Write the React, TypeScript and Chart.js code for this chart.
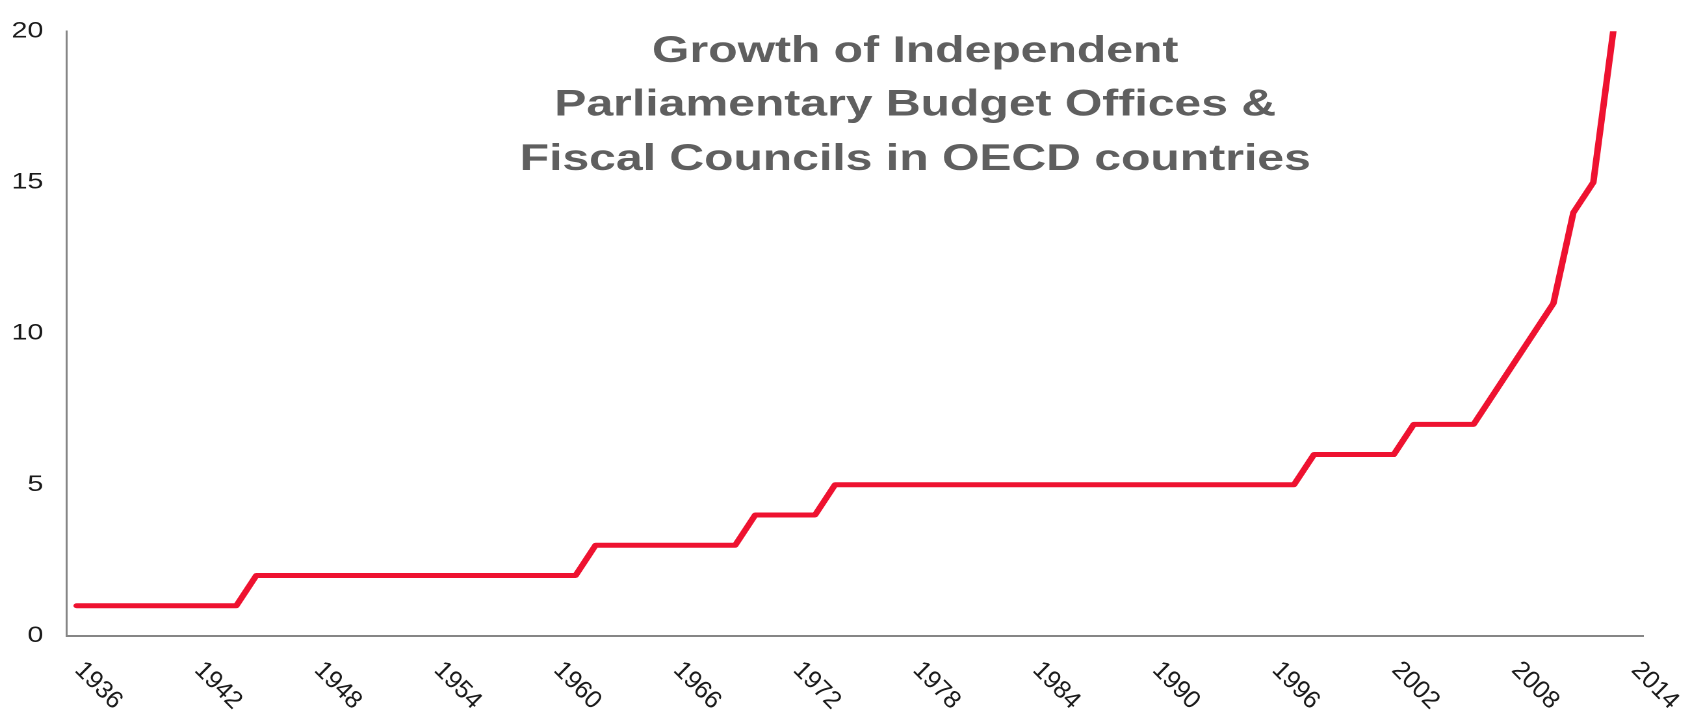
import React, { useEffect, useRef } from 'react';
import { Chart, registerables } from 'chart.js';

Chart.register(...registerables);

// ---- data ----
const YEARS = [
  '1936', '1937', '1938', '1939', '1940', '1941', '1942', '1943', '1944', '1945',
  '1946', '1947', '1948', '1949', '1950', '1951', '1952', '1953', '1954', '1955',
  '1956', '1957', '1958', '1959', '1960', '1961', '1962', '1963', '1964', '1965',
  '1966', '1967', '1968', '1969', '1970', '1971', '1972', '1973', '1974', '1975',
  '1976', '1977', '1978', '1979', '1980', '1981', '1982', '1983', '1984', '1985',
  '1986', '1987', '1988', '1989', '1990', '1991', '1992', '1993', '1994', '1995',
  '1996', '1997', '1998', '1999', '2000', '2001', '2002', '2003', '2004', '2005',
  '2006', '2007', '2008', '2009', '2010', '2011', '2012', '2013', '2014',
];

const OFFICES: (number | null)[] = [
  1, 1, 1, 1, 1, 1, 1, 1, 1, 2,
  2, 2, 2, 2, 2, 2, 2, 2, 2, 2,
  2, 2, 2, 2, 2, 2, 3, 3, 3, 3,
  3, 3, 3, 3, 4, 4, 4, 4, 5, 5,
  5, 5, 5, 5, 5, 5, 5, 5, 5, 5,
  5, 5, 5, 5, 5, 5, 5, 5, 5, 5,
  5, 5, 6, 6, 6, 6, 6, 7, 7, 7,
  7, 8, 9, 10, 11, 14, 15, 20, null,
];

const X_TICK_LABELS = [
  '1936', '1942', '1948', '1954', '1960', '1966', '1972',
  '1978', '1984', '1990', '1996', '2002', '2008', '2014',
];

const Y_MIN = 0;
const Y_MAX = 20;
const Y_STEP = 5;

const TITLE_LINES = [
  'Growth of Independent',
  'Parliamentary Budget Offices &',
  'Fiscal Councils in OECD countries',
];

// ---- presentation ----
const STRETCH = 1.3;
const W = 1294;
const H = 711;
const FONT = 'Arial, "Liberation Sans", Helvetica, sans-serif';
const RED = '#EE1230';
const AXIS = '#868686';
const TEXT = '#1a1a1a';
const TITLE_COLOR = '#5f5f5f';
const TITLE_BASELINES = [62, 115.5, 170];

const overlayPlugin = {
  id: 'overlay',
  afterDraw(chart: any) {
    const ctx = chart.ctx as CanvasRenderingContext2D;
    const xs = chart.scales.x;
    const area = chart.chartArea;

    // title
    ctx.save();
    ctx.fillStyle = TITLE_COLOR;
    ctx.font = `bold 37px ${FONT}`;
    ctx.textAlign = 'center';
    ctx.textBaseline = 'alphabetic';
    const cx = 704;
    TITLE_LINES.forEach((line, i) => {
      ctx.fillText(line, cx, TITLE_BASELINES[i]);
    });
    ctx.restore();

    // rotated x tick labels (clockwise)
    ctx.save();
    ctx.fillStyle = TEXT;
    ctx.font = `25px ${FONT}`;
    ctx.textAlign = 'left';
    ctx.textBaseline = 'middle';
    X_TICK_LABELS.forEach((lab) => {
      const idx = YEARS.indexOf(lab);
      if (idx < 0) return;
      const px = xs.getPixelForValue(idx);
      ctx.save();
      ctx.translate(px + 2 / STRETCH, area.bottom + 30);
      ctx.scale(1 / STRETCH, 1);
      ctx.rotate(Math.PI / 4);
      ctx.fillText(lab, 0, 0);
      ctx.restore();
    });
    ctx.restore();
  },
};

export default function App() {
  const ref = useRef<HTMLCanvasElement>(null);

  useEffect(() => {
    if (!ref.current) return;
    const chart = new Chart(ref.current, {
      type: 'line',
      data: {
        labels: YEARS,
        datasets: [
          {
            data: OFFICES,
            borderColor: RED,
            backgroundColor: RED,
            borderWidth: 5,
            pointRadius: 0,
            pointHoverRadius: 0,
            tension: 0,
            borderCapStyle: 'round',
            borderJoinStyle: 'round',
            fill: false,
          },
        ],
      },
      options: {
        responsive: false,
        maintainAspectRatio: false,
        devicePixelRatio: 2,
        animation: false,
        events: [],
        layout: { padding: { left: 0, top: 25, right: 30, bottom: 0 } },
        plugins: {
          legend: { display: false },
          title: { display: false },
          tooltip: { enabled: false },
        },
        scales: {
          x: {
            type: 'category',
            offset: true,
            grid: { display: false, drawTicks: false },
            border: { display: true, color: AXIS, width: 2 },
            ticks: { display: false },
            afterFit: (s: any) => {
              s.height = 75;
            },
          },
          y: {
            min: Y_MIN,
            max: Y_MAX,
            grid: { display: false, drawTicks: false },
            border: { display: true, color: AXIS, width: 1.5 },
            ticks: {
              stepSize: Y_STEP,
              padding: 18,
              color: TEXT,
              font: { family: FONT, size: 22 },
            },
            afterFit: (s: any) => {
              s.width = 51.3;
            },
          },
        },
      },
      plugins: [overlayPlugin],
    } as any);
    return () => chart.destroy();
  }, []);

  return (
    <div
      style={{
        position: 'fixed',
        left: 0,
        top: 0,
        width: 1682,
        height: 711,
        overflow: 'hidden',
        background: '#ffffff',
      }}
    >
      <div
        style={{
          width: W,
          height: H,
          transform: `scaleX(${STRETCH})`,
          transformOrigin: '0 0',
        }}
      >
        <canvas ref={ref} width={W} height={H} style={{ width: W, height: H }} />
      </div>
    </div>
  );
}
